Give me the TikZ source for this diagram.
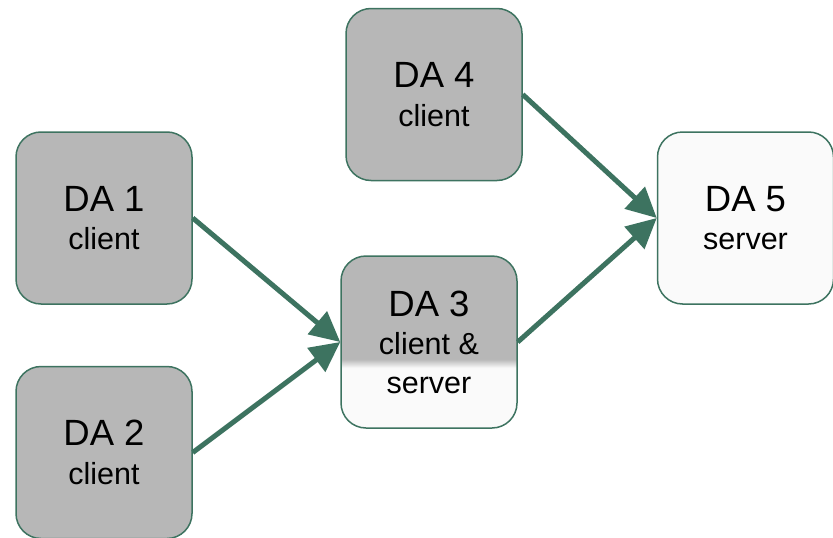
\documentclass[tikz,border=0pt]{standalone}
\usepackage{fontspec}
\setmainfont{Liberation Sans}
\usepackage{xcolor}
\usetikzlibrary{arrows.meta,positioning}

\definecolor{dagreen}{RGB}{61,115,96}
\definecolor{dagray}{RGB}{183,183,183}
\definecolor{dawhite}{RGB}{250,250,250}

% gray top, white bottom of the DA 3 box
\pgfdeclareverticalshading{dasplit}{100bp}{color(0bp)=(dawhite); color(42.5bp)=(dawhite); color(45bp)=(dagray); color(100bp)=(dagray)}

\begin{document}
\begin{tikzpicture}[x=1pt,y=-1pt,
	dabox/.style={draw=dagreen,line width=1.5pt,rounded corners=25pt,
		minimum width=176pt,minimum height=172pt,align=center,
		font=\fontsize{30.5}{38.5}\selectfont},
	client/.style={dabox,fill=dagray},
	server/.style={dabox,fill=dawhite},
	both/.style={dabox,shading=dasplit},
	link/.style={draw=dagreen,line width=5pt,
		-{Triangle[length=30pt,width=29pt]}}]

\useasboundingbox (0,0) rectangle (833,538);

\node[client] (da1) at (104,218) {{\fontsize{36.5}{38.5}\selectfont DA 1}\\client};
\node[client] (da2) at (104,452.5) {{\fontsize{36.5}{38.5}\selectfont DA 2}\\client};
\node[client] (da4) at (434,94.5) {{\fontsize{36.5}{38.5}\selectfont DA 4}\\client};
\node[both] (da3) at (429,342) {{\fontsize{36.5}{38.5}\selectfont DA 3}\\client \&\\server};
\node[server] (da5) at (745.5,218) {{\fontsize{36.5}{38.5}\selectfont DA 5}\\server};


\draw[link] (da1.east)--(da3.west);
\draw[link] (da2.east)--(da3.west);
\draw[link] (da3.east)--(da5.west);
\draw[link] (da4.east)--(da5.west);

\end{tikzpicture}
\end{document}
